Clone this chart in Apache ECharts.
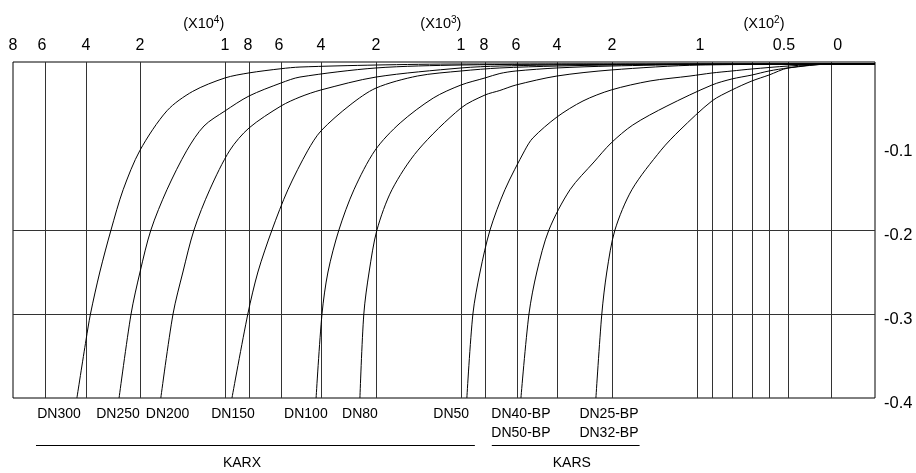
<!DOCTYPE html>
<html>
<head>
<meta charset="utf-8">
<script src="https://cdn.jsdelivr.net/npm/echarts@6/dist/echarts.min.js"></script>
<style>html,body{margin:0;padding:0;background:#fff}#c{width:916px;height:473px}</style>
</head>
<body>
<div id="c"></div>
<script>
// ---- data (flow on reversed log axis, pressure change on y) ----
const curveNames = ['DN300', 'DN250', 'DN200', 'DN150', 'DN100', 'DN80', 'DN50', 'DN40-BP / DN50-BP', 'DN25-BP / DN32-BP'];
const dn300 = [[42400,-0.4],[38800,-0.331],[37150,-0.3],[33900,-0.25],[30400,-0.2],[27000,-0.152],[22900,-0.105],[17600,-0.058],[13700,-0.035],[10000,-0.019],[7910,-0.013],[5790,-0.008],[4810,-0.006],[2290,-0.0036],[1000,-0.0024],[17.6,-0.0024]];
const dn250 = [[28100,-0.4],[25000,-0.3],[22900,-0.25],[20600,-0.2],[17610,-0.152],[14490,-0.105],[12270,-0.0762],[10000,-0.0583],[7910,-0.0405],[5790,-0.025],[4810,-0.0179],[2290,-0.0071],[1000,-0.0036],[258,-0.0024],[17.6,-0.0024]];
const dn200 = [[18700,-0.4],[16600,-0.3],[15070,-0.25],[13530,-0.2],[11600,-0.152],[9530,-0.105],[7910,-0.0786],[5790,-0.0524],[4810,-0.0417],[3920,-0.0333],[2290,-0.0179],[1000,-0.0071],[684,-0.0048],[258,-0.003],[17.6,-0.0024]];
const dn150 = [[9340,-0.4],[8000,-0.3],[7250,-0.25],[6320,-0.2],[5410,-0.152],[4450,-0.105],[3920,-0.0821],[2950,-0.0512],[2290,-0.031],[1530,-0.0167],[1000,-0.0107],[684,-0.0071],[392,-0.0048],[231,-0.0036],[97,-0.0024],[17.6,-0.0024]];
const dn100 = [[4110,-0.4],[3880,-0.3],[3660,-0.25],[3290,-0.2],[2840,-0.152],[2310,-0.105],[1810,-0.0726],[1310,-0.0429],[1000,-0.0274],[791,-0.019],[684,-0.0137],[585,-0.0107],[392,-0.0071],[231,-0.0048],[97,-0.003],[17.6,-0.0024]];
const dn80 = [[2680,-0.4],[2580,-0.3],[2450,-0.25],[2270,-0.2],[1960,-0.152],[1521,-0.105],[1000,-0.0548],[791,-0.0393],[684,-0.0339],[585,-0.0274],[392,-0.0167],[231,-0.0095],[97,-0.0036],[17.6,-0.0024]];
const dn50 = [[944,-0.4],[890,-0.3],[830,-0.25],[753,-0.2],[651,-0.152],[536,-0.105],[496,-0.0905],[392,-0.0655],[304,-0.0464],[231,-0.0333],[158,-0.0226],[107,-0.0167],[86.4,-0.0131],[71.1,-0.0107],[58.5,-0.0083],[41.1,-0.0048],[27,-0.0024],[17.6,-0.0024]];
const dn40bp = [[557,-0.4],[515,-0.3],[477,-0.25],[424,-0.2],[345,-0.152],[273,-0.119],[231,-0.0964],[187,-0.075],[134,-0.0524],[86.4,-0.0274],[71.1,-0.0202],[58.5,-0.0155],[49.5,-0.0107],[41.1,-0.0071],[27,-0.0024],[17.6,-0.0024]];
const dn25bp = [[268,-0.4],[253,-0.3],[241,-0.25],[222.6,-0.2],[188.6,-0.152],[142,-0.105],[118,-0.081],[86.4,-0.0464],[71.1,-0.0333],[58.5,-0.0226],[49.5,-0.0155],[41.1,-0.0071],[27,-0.0024],[17.6,-0.0024]];
const curves = [dn300, dn250, dn200, dn150, dn100, dn80, dn50, dn40bp, dn25bp];

// grid lines (as positioned in the picture)
const gridX = [57900, 38800, 22900, 10000, 7910, 5790, 3920, 2290, 1000, 791, 579, 392, 229, 100, 86.4, 71.1, 58.5, 49.5, 41.1, 27.0];
const gridY = [-0.2, -0.3];

// top tick labels
const tickLabels = ['8','6','4','2','1','8','6','4','2','1','8','6','4','2','1','0.5','0'];
const tickPos = [79100, 59600, 38800, 22900, 10000, 7990, 5900, 3920, 2290, 1000, 800, 585, 392, 229, 97, 42.8, 25.3];

// multipliers
const multExp = ['4', '3', '2'];
const multPos = [12300, 1217, 52.0];

// curve labels under the plot
const dnLabels = ['DN300', 'DN250', 'DN200', 'DN150', 'DN100', 'DN80', 'DN50', 'DN40-BP\nDN50-BP', 'DN25-BP\nDN32-BP'];
const dnLabelPos = [50500, 28400, 17500, 9250, 4540, 2680, 1100, 557, 236];

// groups
const groupNames = ['KARX', 'KARS'];
const groupRanges = [[63200, 873], [740, 175]];
const groupTextPos = [8470, 339];
const groupLineY = -0.456;
const groupTextY = -0.477;

const FONT = '"Liberation Sans", Arial, Helvetica, sans-serif';
const X_MIN = 17.6, X_MAX = 79100;

const chart = echarts.init(document.getElementById('c'), null, { renderer: 'canvas' });

const hidden = { width: 0, color: 'rgba(0,0,0,0)', opacity: 1 };
const markData = [];
gridX.forEach(v => markData.push({ xAxis: v, lineStyle: { color: '#333', width: 1, type: 'solid' }, label: { show: false } }));
gridY.forEach(v => markData.push({ yAxis: v, lineStyle: { color: '#333', width: 1, type: 'solid' }, label: { show: false } }));
tickPos.forEach((v, i) => markData.push({
  xAxis: v, lineStyle: hidden,
  label: { show: true, position: 'end', distance: 8, formatter: tickLabels[i], color: '#000', opacity: 1, fontSize: 16, fontFamily: FONT }
}));
multPos.forEach((v, i) => markData.push({
  xAxis: v, lineStyle: hidden,
  label: { show: true, position: 'end', distance: 30, formatter: '(X10{s|' + multExp[i] + '})', color: '#000', opacity: 1, fontSize: 14.5, fontFamily: FONT,
    rich: { s: { fontSize: 10, fontFamily: FONT, color: '#000', verticalAlign: 'bottom', padding: [0, 0, 7, 0] } } }
}));
dnLabelPos.forEach((v, i) => markData.push({
  xAxis: v, lineStyle: hidden,
  label: { show: true, position: 'start', distance: 7, formatter: dnLabels[i], color: '#000', opacity: 1, fontSize: 14, lineHeight: 19, fontFamily: FONT }
}));

const series = curves.map((d, i) => ({
  name: curveNames[i],
  type: 'line',
  data: d,
  showSymbol: false,
  symbol: 'none',
  smooth: 0.3,
  lineStyle: { color: '#000', width: 1 },
  silent: true,
  animation: false,
  z: 3
}));
series.push({
  name: 'frame',
  type: 'line',
  data: [],
  silent: true,
  animation: false,
  markLine: {
    silent: true,
    animation: false,
    symbol: ['none', 'none'],
    z: 1,
    label: { show: true },
    data: markData
  }
});

chart.setOption({
  animation: false,
  backgroundColor: '#fff',
  grid: { left: 13, right: 41, top: 62, bottom: 75, show: true, borderColor: '#000', borderWidth: 1, backgroundColor: 'transparent' },
  xAxis: {
    type: 'log', logBase: 10, inverse: true, min: X_MIN, max: X_MAX, show: false
  },
  yAxis: {
    type: 'value', position: 'right', min: -0.4, max: 0, interval: 0.1,
    axisLine: { show: false }, axisTick: { show: false }, splitLine: { show: false },
    axisLabel: {
      color: '#000', fontSize: 16.5, fontFamily: FONT, margin: 9, verticalAlign: 'top', lineHeight: 10,
      formatter: v => Math.abs(v) < 1e-9 ? '' : v.toFixed(1)
    }
  },
  series: series
});

// group brackets under the labels, positioned through the axes
const graphics = [];
groupNames.forEach((name, i) => {
  const a = chart.convertToPixel({ gridIndex: 0 }, [groupRanges[i][0], groupLineY]);
  const b = chart.convertToPixel({ gridIndex: 0 }, [groupRanges[i][1], groupLineY]);
  const t = chart.convertToPixel({ gridIndex: 0 }, [groupTextPos[i], groupTextY]);
  graphics.push({ type: 'line', shape: { x1: a[0], y1: Math.round(a[1]) + 0.5, x2: b[0], y2: Math.round(b[1]) + 0.5 }, style: { stroke: '#000', lineWidth: 1 }, silent: true });
  graphics.push({ type: 'text', x: t[0], y: t[1], style: { text: name, fill: '#000', font: '14px ' + FONT, align: 'center', verticalAlign: 'middle' }, silent: true });
});
chart.setOption({ graphic: graphics });
</script>
</body>
</html>
